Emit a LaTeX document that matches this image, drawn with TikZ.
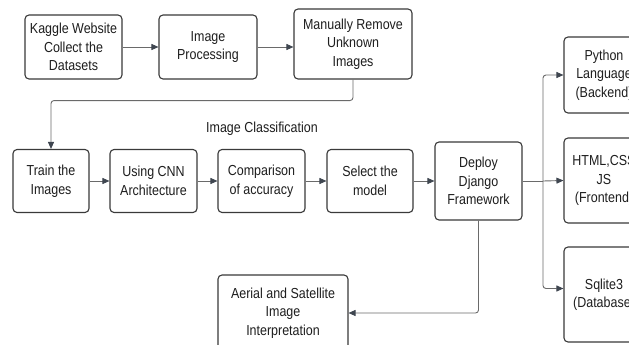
\documentclass[tikz,border=0pt]{standalone}
\usepackage{fontspec}
\setmainfont{Liberation Sans}[FakeStretch=0.86]
\usetikzlibrary{arrows.meta}
\definecolor{boxc}{HTML}{3A3A3A}
\definecolor{linec}{HTML}{6A6A6A}
\definecolor{tipc}{HTML}{3F4650}
\definecolor{txt}{HTML}{1E1E1E}
\begin{document}
\begin{tikzpicture}[x=1pt,y=-1pt,
  box/.style={draw=boxc, line width=1.1pt, rounded corners=4pt, align=center,
    inner sep=0pt, text=txt, font=\fontsize{14.5}{18.5}\selectfont},
  link/.style={draw=linec, line width=0.9pt, rounded corners=3pt,
    -{Triangle[length=7pt,width=6pt,color=tipc]}},
  plain/.style={draw=linec, line width=0.9pt}]
\clip (0,0) rectangle (629,345);
\fill[white] (0,0) rectangle (629,345);

% data preparation
\node[box, minimum width=97, minimum height=64] (kaggle) at (73.5,47) {Kaggle Website\\Collect the\\Datasets};
\node[box, minimum width=98, minimum height=64] (proc) at (208,47) {Image\\Processing};
\node[box, minimum width=118, minimum height=70] (manual) at (353,44) {Manually Remove\\Unknown\\Images};

\node[text=txt, font=\fontsize{14.5}{18.5}\selectfont, inner sep=0pt] (title) at (262,129) {Image Classification};

% classification pipeline
\node[box, minimum width=76, minimum height=63] (train) at (51,181) {Train the\\Images};
\node[box, minimum width=87, minimum height=63] (cnn) at (153.5,181) {Using CNN\\Architecture};
\node[box, minimum width=87, minimum height=63] (comp) at (261.5,181) {Comparison\\of accuracy};
\node[box, minimum width=86, minimum height=63] (select) at (370,181) {Select the\\model};
\node[box, minimum width=87, minimum height=78] (deploy) at (478.5,181) {Deploy\\Django\\Framework};

% deployment stack
\node[box, minimum width=80, minimum height=76] (python) at (604,75) {Python\\Language\\(Backend)};
\node[box, minimum width=80, minimum height=85] (html) at (604,180.5) {HTML,CSS\\JS\\(Frontend)};
\node[box, minimum width=80, minimum height=95] (sqlite) at (604,294.5) {Sqlite3\\(Database)};

\node[box, minimum width=130, minimum height=76] (aerial) at (283,313) {Aerial and Satellite\\Image\\Interpretation};

\coordinate (fork) at (543,181);

% connectors
\draw[link] (kaggle) -- (proc);
\draw[link] (proc.east) -- (proc.east -| manual.west);
\draw[link] (manual.south) -- ++(0,21) -| (train.north);
\draw[link] (train) -- (cnn);
\draw[link] (cnn) -- (comp);
\draw[link] (comp) -- (select);
\draw[link] (select) -- (deploy);
\draw[plain] (deploy.east) -- (fork);
\draw[link] (fork) |- (python.west);
\draw[link] (fork) -- (html.west);
\draw[link] (fork) |- ([yshift=6pt]sqlite.west);
\draw[link] (deploy.south) |- (aerial.east);
\end{tikzpicture}
\end{document}
